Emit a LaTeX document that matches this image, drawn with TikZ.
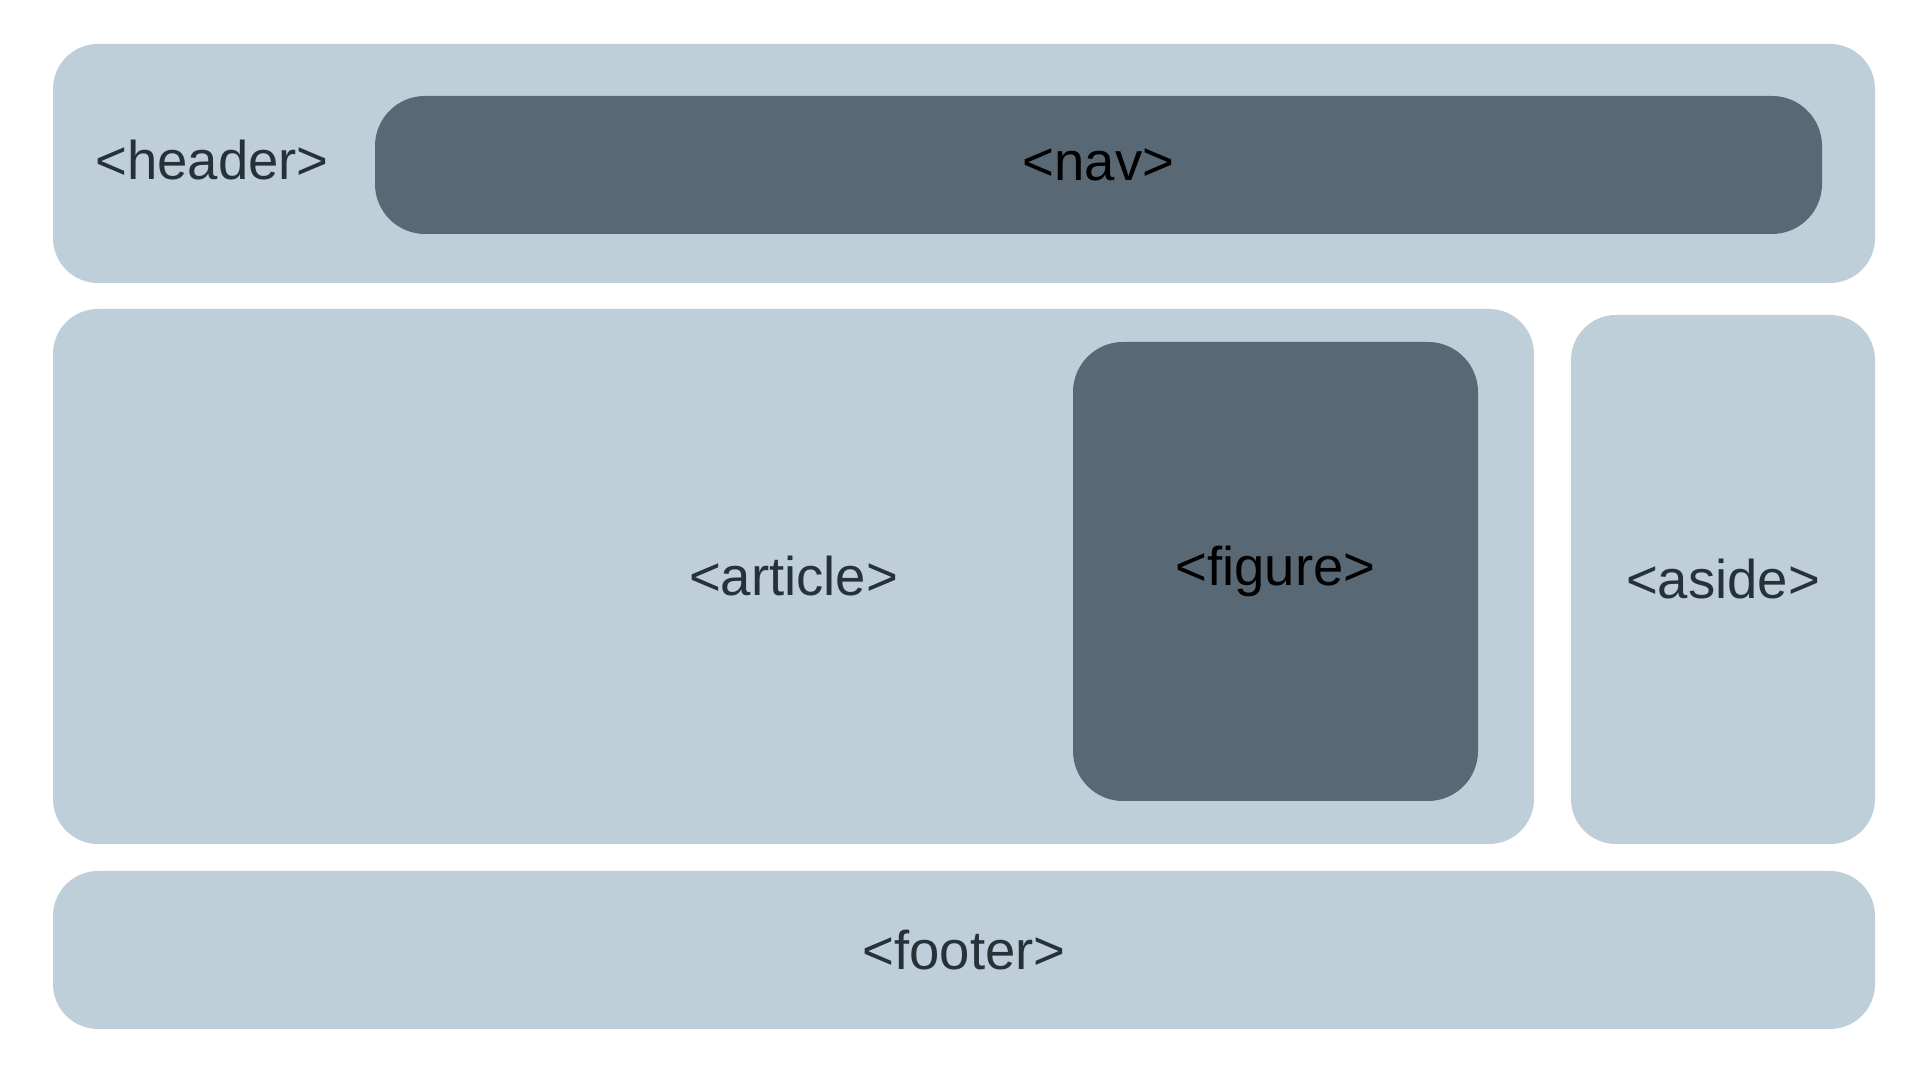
\documentclass[tikz,border=0pt]{standalone}
\usepackage{fontspec}
\setmainfont{Liberation Sans}
\definecolor{boxlight}{HTML}{BECFD9}
\definecolor{boxdark}{HTML}{586874}
\definecolor{textdark}{HTML}{263238}
\tikzset{
	lightbox/.style={fill=boxlight,rounded corners=0.45cm,inner sep=0pt,text=textdark},
	darkbox/.style={fill=boxdark,rounded corners=0.5cm,inner sep=0pt,text=black},
	tag/.style={font=\fontsize{15.5}{18}\selectfont}
}
\begin{document}
\begin{tikzpicture}[x=1cm,y=1cm]
		\useasboundingbox[fill=white] (0,0) rectangle (19.2,10.8);
		\node[lightbox,minimum width=18.22cm,minimum height=2.39cm] (header) at (9.64,9.165) {};
		\node[tag,text=textdark] (headerlabel) at (2.12,9.2) {<header>};
		\node[darkbox,tag,minimum width=14.47cm,minimum height=1.38cm] (nav) at (10.985,9.15) {<nav>};
		\node[lightbox,tag,minimum width=14.81cm,minimum height=5.35cm] (article) at (7.935,5.035) {<article>};
		\node[darkbox,tag,minimum width=4.05cm,minimum height=4.59cm] (figure) at (12.755,5.085) {<figure>};
		\node[lightbox,tag,minimum width=3.04cm,minimum height=5.29cm] (aside) at (17.23,5.005) {<aside>};
		\node[lightbox,tag,minimum width=18.22cm,minimum height=1.58cm] (footer) at (9.64,1.30) {<footer>};
	\end{tikzpicture}
\end{document}
